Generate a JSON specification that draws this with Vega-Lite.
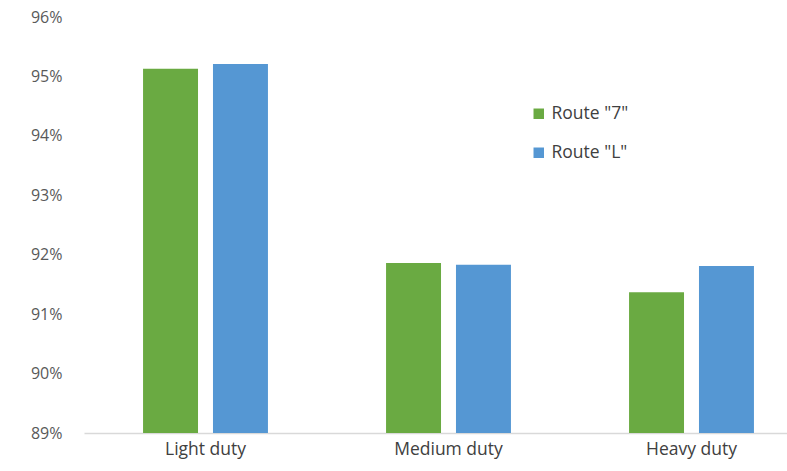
{
  "$schema": "https://vega.github.io/schema/vega-lite/v6.json",
  "width": 703,
  "height": 416,
  "autosize": {"type": "none"},
  "padding": {"left": 84, "top": 17, "right": 0, "bottom": 38},
  "background": "white",
  "config": {"view": {"stroke": null}, "font": "Open Sans"},
  "data": {"values": [
    {"duty": "Light duty", "route": "Route \"7\"", "value": 0.9513},
    {"duty": "Light duty", "route": "Route \"L\"", "value": 0.9521},
    {"duty": "Medium duty", "route": "Route \"7\"", "value": 0.9186},
    {"duty": "Medium duty", "route": "Route \"L\"", "value": 0.9183},
    {"duty": "Heavy duty", "route": "Route \"7\"", "value": 0.9137},
    {"duty": "Heavy duty", "route": "Route \"L\"", "value": 0.9181}
  ]},
  "mark": {"type": "bar", "clip": true},
  "encoding": {
    "x": {
      "field": "duty", "type": "nominal", "sort": null,
      "scale": {"range": [0, 729], "paddingInner": 0.486, "paddingOuter": 0.243},
      "axis": {"title": null, "labelAngle": 0, "ticks": false, "domainColor": "#d9d9d9", "domainWidth": 1.5, "labelFontSize": 17.5, "labelColor": "#404040", "labelPadding": 7, "labelFont": "Open Sans"}
    },
    "xOffset": {"field": "route", "type": "nominal", "scale": {"paddingInner": 0.214, "paddingOuter": 0}},
    "y": {
      "field": "value", "type": "quantitative",
      "scale": {"domain": [0.89, 0.96], "zero": false, "nice": false},
      "axis": {"title": null, "format": ".0%", "values": [0.89, 0.90, 0.91, 0.92, 0.93, 0.94, 0.95, 0.96], "grid": false, "domain": false, "ticks": false, "labelFontSize": 16, "labelColor": "#595959", "labelPadding": 22, "labelFont": "Open Sans"}
    },
    "color": {
      "field": "route", "type": "nominal",
      "scale": {"domain": ["Route \"7\"", "Route \"L\""], "range": ["#6aaa42", "#5597d3"]},
      "legend": {"title": null, "orient": "none", "legendX": 446, "legendY": 88, "symbolType": "square", "symbolSize": 110, "symbolOpacity": 1, "labelFontSize": 17.5, "labelColor": "#404040", "rowPadding": 20, "labelOffset": 4, "labelFont": "Open Sans"}
    }
  }
}
